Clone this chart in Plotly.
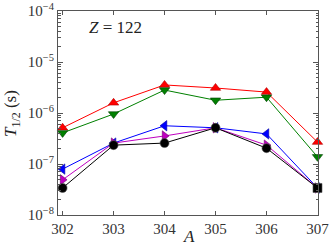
import plotly.graph_objects as go

A = [302, 303, 304, 305, 306, 307]
red_up = [10**-6.29, 10**-5.80, 10**-5.45, 10**-5.51, 10**-5.59, 10**-6.57]
green_down = [10**-6.39, 10**-6.02, 10**-5.55, 10**-5.75, 10**-5.69, 10**-6.86]
blue_left = [10**-7.10, 10**-6.59, 10**-6.25, 10**-6.29, 10**-6.41, 10**-7.47]
magenta_right = [10**-7.31, 10**-6.59, 10**-6.45, 10**-6.29, 10**-6.63, 10**-7.47]
black_circ = [10**-7.47, 10**-6.63, 10**-6.59, 10**-6.29, 10**-6.69, 10**-7.47]

ytickvals = [1e-8, 1e-7, 1e-6, 1e-5, 1e-4]
yticktext = ["10<sup>\u22128</sup>", "10<sup>\u22127</sup>", "10<sup>\u22126</sup>",
             "10<sup>\u22125</sup>", "10<sup>\u22124</sup>"]

series = [
    (red_up, "#ff0000", "#b00000", "triangle-up"),
    (green_down, "#008000", "#004000", "triangle-down"),
    (blue_left, "#0000ff", "#0000a0", "triangle-left"),
    (magenta_right, "#bf00bf", "#700070", "triangle-right"),
    (black_circ, "#000000", "#000000", ["circle"] * 5 + ["square"]),
]

fig = go.Figure()
for ys, col, edge, sym in series:
    fig.add_trace(go.Scatter(
        x=A, y=ys, mode="lines+markers", cliponaxis=False,
        line=dict(color=col, width=1),
        marker=dict(symbol=sym, size=9, color=col,
                    line=dict(color="#555555" if col == "#000000" else edge, width=0.6)),
        showlegend=False,
    ))

font = "Liberation Serif, DejaVu Serif, serif"
axis_common = dict(
    showline=True, linecolor="#555555", linewidth=1, mirror="allticks",
    ticks="inside", tickcolor="#555555", showgrid=False, zeroline=False,
    automargin=False,
    tickfont=dict(family=font, size=15, color="#333333"),
)
fig.update_xaxes(range=[301.91, 307.01], tickvals=A, ticklen=4, **axis_common)
fig.update_yaxes(type="log", range=[-8, -4], tickvals=ytickvals, ticktext=yticktext,
                 ticklen=5,
                 minor=dict(ticks="inside", ticklen=2.5, tickcolor="#555555",
                            dtick="D1", showgrid=False),
                 **axis_common)

fig.add_annotation(x=0.22, y=0.92, xref="paper", yref="paper", showarrow=False,
                   xanchor="center", yanchor="middle",
                   text="<i>Z</i> = 122", font=dict(family=font, size=17, color="#222222"))
fig.add_annotation(x=-0.177, y=0.5, xref="paper", yref="paper", showarrow=False,
                   xanchor="center", yanchor="middle",
                   textangle=-90, text="<i>T</i><sub>1/2</sub> (s)",
                   font=dict(family=font, size=17, color="#222222"))
fig.add_annotation(x=0.505, y=-0.105, xref="paper", yref="paper", showarrow=False,
                   xanchor="center", yanchor="middle", text="<i>A</i>",
                   font=dict(family=font, size=17, color="#222222"))

fig.update_layout(
    width=332, height=248,
    margin=dict(l=58, r=14, t=11, b=33, autoexpand=False),
    plot_bgcolor="white", paper_bgcolor="white",
)
fig.write_html("out.html", config={"displayModeBar": False},
               post_script="document.body.style.margin='0';document.body.style.overflow='hidden';")
